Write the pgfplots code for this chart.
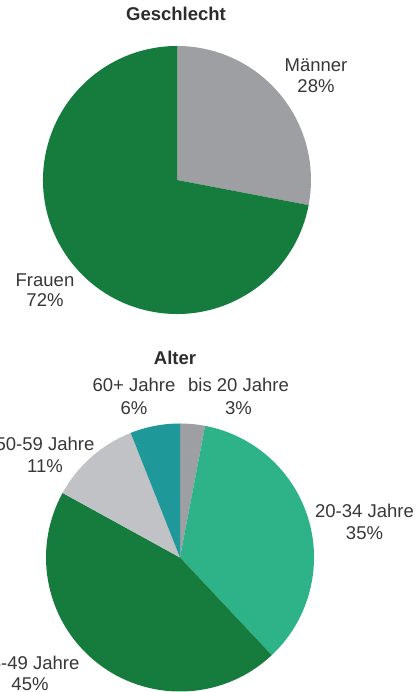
\documentclass[border=0pt]{standalone}
\usepackage{pgfplots}
\usepackage{pgfplotstable}
\pgfplotsset{compat=1.18}
\usepackage{fontspec}
\setmainfont{Liberation Sans}
\definecolor{cGrey}{RGB}{157,159,162}
\definecolor{cGreen}{RGB}{22,124,62}
\definecolor{cMint}{RGB}{46,178,136}
\definecolor{cLight}{RGB}{193,194,197}
\definecolor{cTeal}{RGB}{30,152,152}
\definecolor{cText}{RGB}{55,55,55}

\pgfplotstableread{
label value color
Maenner 28 cGrey
Frauen 72 cGreen
}\sextable
\pgfplotstableread{
label value color
bis20 3 cGrey
a2034 35 cMint
a3549 45 cGreen
a5059 11 cLight
a60 6 cTeal
}\agetable

\def\pieR{134pt}
\newcommand{\drawpie}[3]{%
  \pgfplotstablegetrowsof{#1}%
  \pgfmathtruncatemacro\lastrow{\pgfplotsretval-1}%
  \gdef\cumangle{90}%
  \foreach \i in {0,...,\lastrow}{%
    \pgfplotstablegetelem{\i}{value}\of{#1}\let\val\pgfplotsretval
    \pgfplotstablegetelem{\i}{color}\of{#1}\let\col\pgfplotsretval
    \pgfmathsetmacro\endangle{\cumangle-3.6*\val}%
    \fill[fill=\col] (axis cs:#2,#3) -- ++(\cumangle:\pieR) arc[start angle=\cumangle, end angle=\endangle, radius=\pieR] -- cycle;
    \xdef\cumangle{\endangle}%
  }}
\tikzset{
  lbl/.style={anchor=base, text=cText, font=\fontsize{18.5}{22}\selectfont},
  ttl/.style={anchor=base, text=cText!80!black, font=\fontsize{18.5}{22}\selectfont\bfseries},
}

\begin{document}
\begin{tikzpicture}
\useasboundingbox (0,0) rectangle (418pt,692pt);
\clip (0,0) rectangle (418pt,692pt);
\begin{axis}[
  at={(0,0)}, anchor=south west,
  width=418pt, height=692pt, scale only axis,
  xmin=0, xmax=418, ymin=0, ymax=692,
  hide axis, clip=false,
]
\pgfplotsextra{\drawpie{\sextable}{177}{512}}
\pgfplotsextra{\drawpie{\agetable}{180}{134.5}}
% titles
\node[ttl] at (axis cs:176,671) {Geschlecht};
\node[ttl] at (axis cs:175,327) {Alter};
% pie 1 labels
\node[lbl] at (axis cs:316,620) {Männer};
\node[lbl] at (axis cs:316,599) {28\%};
\node[lbl] at (axis cs:45,405) {Frauen};
\node[lbl] at (axis cs:45,385) {72\%};
% pie 2 labels
\node[lbl] at (axis cs:238.5,300) {bis 20 Jahre};
\node[lbl] at (axis cs:238.5,277) {3\%};
\node[lbl] at (axis cs:364.5,174) {20-34 Jahre};
\node[lbl] at (axis cs:364.5,152) {35\%};
\node[lbl] at (axis cs:30,22) {35-49 Jahre};
\node[lbl] at (axis cs:30,1) {45\%};
\node[lbl] at (axis cs:45,241) {50-59 Jahre};
\node[lbl] at (axis cs:45,219) {11\%};
\node[lbl] at (axis cs:134,300) {60+ Jahre};
\node[lbl] at (axis cs:134,277) {6\%};
\end{axis}
\end{tikzpicture}
\end{document}
